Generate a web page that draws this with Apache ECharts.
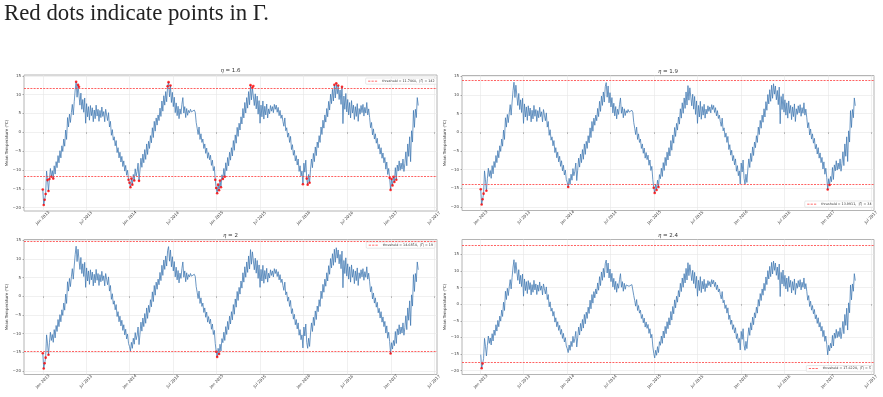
<!DOCTYPE html>
<html>
<head>
<meta charset="utf-8">
<script src="https://cdn.jsdelivr.net/npm/echarts@6/dist/echarts.min.js"></script>
<style>
html,body{margin:0;padding:0;background:#fff;}
#c{width:883px;height:397px;}
</style>
</head>
<body>
<div id="c"></div>
<script>
// ---- data (mean temperature, one reading every 4 days from 2013-01-01) ----
const START_DATE = '2013-01-01';
const STEP_DAYS = 4;
const temps2013 = [
  -15.2, -19.3, -17.9, -16.4, -10.3, -12.7, -15.6, -12.4,
  -9.6, -11.8, -10.2, -12.3, -8.9, -11.1, -7.8,
  -9.4, -6.2, -8.1, -4.9, -6.8, -3.6, -5.1, -1.8,
  -3.7, 0.6, -1.9, 3.9, 1.4, 4.8, 2.6,
  5.2, 7.4, 4.6, 8.1, 11.2, 13.4, 9.3, 12.6,
  12.1, 7.2, 10.4, 6.1, 8.7, 5.3, 9.1, 2.4,
  7.6, 4.1, 6.8, 3.2, 7.1, 4.4, 6.5,
  2.8, 5.9, 3.6, 7.2, 4.3, 6.1, 2.9, 5.8,
  3.9, 6.7, 4.2, 5.5, 2.8, 6.1, 4.6, 3.1,
  5.2, 1.4, 2.9, -0.8, 0.7, -2.1, -1.2,
  -3.6, -2.2, -5.4, -4.1, -6.8, -5.3, -7.9, -6.4,
  -9.1, -7.6, -10.3, -8.8, -11.4, -10.1, -12.6, -13.4
];
const temps2014 = [
  -14.6, -12.3, -13.9, -11.2, -12.8, -9.7, -11.6, -10.4,
  -8.2, -12.9, -10.1, -6.9, -9.3, -5.8, -8.1,
  -4.6, -7.2, -3.1, -5.9, -2.4, -4.3, -0.9, -2.8,
  1.2, -1.4, 2.9, 0.3, 3.8, 1.9, 4.6,
  3.1, 6.4, 4.2, 8.3, 5.6, 9.7, 7.2, 10.8,
  8.1, 12.2, 13.3, 9.4, 12.4, 7.9, 10.6, 6.8,
  9.3, 5.2, 7.8, 4.4, 6.9, 3.6, 6.2,
  4.8, 7.4, 9.2, 5.1, 6.8, 3.9, 6.3, 4.5,
  5.8, 5.2, 6.1, 5.4, 5.7, 4.9, 5.9, 5.3,
  2.6, 1.1, -0.6, 1.4, -1.9, -0.4, -2.7,
  -1.8, -4.3, -3.1, -5.6, -4.2, -6.9, -5.4, -7.3,
  -6.1, -8.8, -7.4, -10.2, -9.1, -12.6, -14.8
];
const temps2015 = [
  -16.2, -13.9, -15.4, -12.8, -14.6, -11.3, -12.4, -9.6,
  -11.8, -8.1, -10.2, -6.7, -8.9, -5.3, -7.4,
  -4.1, -6.3, -2.2, -4.8, -0.7, -2.9, 1.3, -1.1,
  2.4, 0.6, 4.1, 2.2, 6.3, 3.8, 7.9,
  5.1, 9.2, 6.4, 10.8, 7.3, 12.5, 8.6, 11.9,
  12.3, 7.1, 10.2, 6.2, 9.6, 4.8, 8.4, 2.4,
  7.2, 4.1, 8.3, 3.5, 6.9, 4.6, 7.5,
  3.8, 6.2, 4.9, 7.1, 5.6, 6.8, 5.2, 7.4,
  6.1, 7.2, 5.3, 6.6, 4.4, 5.8, 3.7, 4.6,
  2.9, 1.6, 3.8, 0.4, 1.2, -1.3, -0.2,
  -2.7, -1.1, -4.6, -3.3, -6.1, -4.8, -7.6, -6.2,
  -8.7, -7.1, -10.4, -8.9, -11.6, -10.3, -13.8
];
const temps2016 = [
  -8.2, -10.6, -7.4, -12.3, -13.9, -11.2, -13.4, -9.8,
  -7.1, -9.4, -5.6, -7.8, -3.9, -6.2, -2.6,
  -4.1, -0.9, -2.7, 1.4, -0.6, 3.2, 1.1, 4.6,
  2.7, 6.3, 4.1, 8.2, 5.9, 10.1, 7.6,
  11.4, 8.3, 12.6, 9.1, 13.0, 10.2, 12.4, 8.7,
  11.2, 7.4, 12.1, 2.3, 9.6, 6.1, 10.3, 5.4,
  8.7, 4.6, 7.9, 3.8, 8.4, 5.1, 7.2,
  3.4, 6.8, 4.2, 7.6, 2.9, 6.3, 4.8, 7.1,
  5.2, 7.4, 4.3, 6.6, 5.1, 7.9, 4.6, 6.2,
  3.9, 1.2, 2.6, -0.7, 0.9, -1.8, -0.4,
  -2.9, -1.6, -4.4, -3.2, -5.8, -4.1, -6.9, -5.5,
  -8.1, -6.7, -9.8, -7.9, -11.2, -9.6, -12.1, -15.3
];
const temps2017 = [
  -12.4, -14.1, -11.8, -13.2, -9.4, -12.6, -8.7, -10.3,
  -7.6, -10.1, -8.2, -9.8, -7.1, -10.4, -8.3,
  -5.2, -8.9, -3.1, -6.4, -1.2, -7.8, 0.4, -2.6,
  5.8, 1.3, 6.1, 3.9, 9.2, 7.1
];
const etaValues = ['1.6', '1.9', '2', '2.4'];
const thresholds = [11.7460, 13.9911, 14.6854, 17.6224];
const gammaCounts = [142, 34, 19, 5];
const xTickDates = ['2013-01-01','2013-07-01','2014-01-01','2014-07-01','2015-01-01',
  '2015-07-01','2016-01-01','2016-07-01','2017-01-01','2017-07-01'];
const yTickValues = [-20, -15, -10, -5, 0, 5, 10, 15];
const monthNames = ['Jan','Feb','Mar','Apr','May','Jun','Jul','Aug','Sep','Oct','Nov','Dec'];

// ---- build ----
const DAY = 86400000;
const temps = [].concat(temps2013, temps2014, temps2015, temps2016, temps2017);
const t0 = Date.parse(START_DATE + 'T00:00:00Z');
const lineData = temps.map((v, i) => [t0 + i * STEP_DAYS * DAY, v]);
const tFirst = lineData[0][0], tLast = lineData[lineData.length - 1][0];
const xPad = (tLast - tFirst) * 0.05;
const xTicks = xTickDates.map(d => Date.parse(d + 'T00:00:00Z'));

const FONT = 'DejaVu Sans';
const RED = '#ff3b3b';
const grids = [
  {left: 24, top: 75, width: 413, height: 136},
  {left: 462, top: 75.5, width: 412, height: 135},
  {left: 24, top: 239.5, width: 413, height: 135},
  {left: 462, top: 239.5, width: 412, height: 135}
];
const yRanges = [[-20.9, 15.2], [-20.9, 15.2], [-20.9, 15.2], [-21.2, 19.5]];
const legendPos = [
  {right: 446.5, top: 78},
  {right: 9.5, top: 201},
  {right: 448, top: 242},
  {right: 10, top: 365.5}
];
const dashIcon = 'path://M0,0h3v1h-3z M4.5,0h3v1h-3z M9,0h3v1h-3z';

const option = {
  backgroundColor: '#ffffff',
  animation: false,
  grid: grids.map(g => Object.assign({show: true, borderColor: '#b4b4b4', borderWidth: 1, backgroundColor: 'transparent'}, g)),
  title: grids.map((g, k) => ({
    text: '{i|η} = ' + etaValues[k],
    left: g.left + g.width / 2,
    top: g.top - 7,
    textAlign: 'center',
    padding: 0,
    textStyle: {
      fontFamily: FONT, fontSize: 5.5, fontWeight: 'normal', color: '#333',
      rich: {i: {fontFamily: 'DejaVu Serif', fontStyle: 'italic', fontSize: 5.5, color: '#333'}}
    }
  })),
  legend: grids.map((g, k) => Object.assign({
    data: [{name: 'threshold = ' + thresholds[k].toFixed(4) + ',  |Γ| = ' + gammaCounts[k], icon: dashIcon}],
    orient: 'horizontal',
    itemWidth: 9, itemHeight: 0.8, itemGap: 2,
    itemStyle: {color: RED, borderWidth: 0},
    padding: [1.6, 2, 1.6, 2.5],
    backgroundColor: 'rgba(255,255,255,0.85)',
    borderColor: '#d0d0d0', borderWidth: 0.5, borderRadius: 1,
    selectedMode: false,
    textStyle: {fontFamily: FONT, fontSize: 3.3, color: '#333'}
  }, legendPos[k])),
  xAxis: grids.map((g, k) => ({
    type: 'value', gridIndex: k,
    min: tFirst - xPad, max: tLast + xPad,
    axisLine: {show: false},
    axisTick: {show: true, length: 1.5, lineStyle: {color: '#666', width: 0.5}, customValues: xTicks},
    splitLine: {show: true, lineStyle: {color: '#e6e6e6', width: 0.6}},
    axisLabel: {
      customValues: xTicks,
      rotate: 45, align: 'center', verticalAlign: 'middle', margin: 7,
      fontFamily: FONT, fontSize: 4, color: '#444',
      formatter: v => { const d = new Date(v); return monthNames[d.getUTCMonth()] + ' ' + d.getUTCFullYear(); }
    }
  })),
  yAxis: grids.map((g, k) => ({
    type: 'value', gridIndex: k,
    min: yRanges[k][0], max: yRanges[k][1],
    name: 'Mean Temperature (°C)', nameLocation: 'middle', nameRotate: 90, nameGap: 12.5,
    nameTextStyle: {fontFamily: FONT, fontSize: 4, color: '#333'},
    axisLine: {show: false},
    axisTick: {show: true, length: 1.5, lineStyle: {color: '#666', width: 0.5}, customValues: yTickValues},
    splitLine: {show: true, lineStyle: {color: '#e6e6e6', width: 0.6}},
    axisLabel: {
      customValues: yTickValues, margin: 3,
      fontFamily: FONT, fontSize: 4, color: '#444',
      formatter: v => String(v).replace('-', '\u2212')
    }
  })),
  graphic: [{
    type: 'text', left: 4, top: 3,
    style: {text: 'Red dots indicate points in Γ.', font: '22.8px "Liberation Serif"', fill: '#222'}
  }],
  series: []
};

grids.forEach((g, k) => {
  const thr = thresholds[k];
  option.series.push({
    type: 'line', xAxisIndex: k, yAxisIndex: k, data: lineData,
    symbol: 'none', showSymbol: false, silent: true, z: 2,
    lineStyle: {width: 0.9, color: '#3f78b1', opacity: 0.85}
  });
  option.series.push({
    type: 'line', name: 'threshold = ' + thr.toFixed(4) + ',  |Γ| = ' + gammaCounts[k],
    xAxisIndex: k, yAxisIndex: k, data: [], symbol: 'none', z: 3,
    itemStyle: {color: RED},
    lineStyle: {width: 0.8, color: RED, type: [2, 1.2]},
    markLine: {
      silent: true, symbol: ['none', 'none'], label: {show: false}, animation: false,
      lineStyle: {width: 0.8, color: RED, type: [2, 1.2]},
      data: [{yAxis: thr}, {yAxis: -thr}]
    }
  });
  option.series.push({
    type: 'scatter', xAxisIndex: k, yAxisIndex: k, z: 4, silent: true,
    data: lineData.filter(p => Math.abs(p[1]) > thr),
    symbolSize: 2.6, itemStyle: {color: '#ff0000'}
  });
});

const chart = echarts.init(document.getElementById('c'), null, {renderer: 'canvas'});
chart.setOption(option);
</script>
</body>
</html>
